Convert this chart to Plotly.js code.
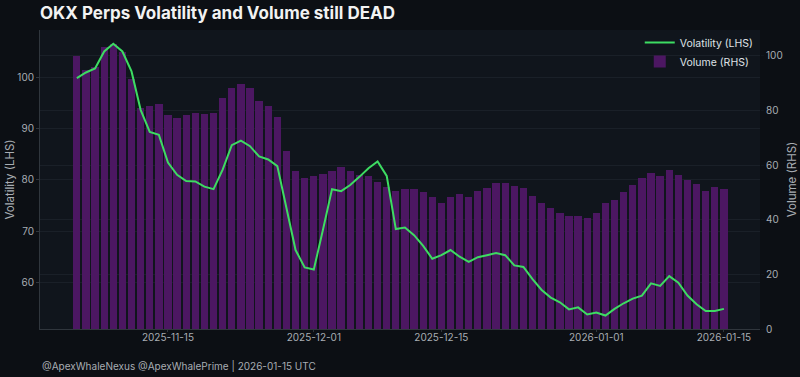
<!DOCTYPE html>
<html>
<head>
<meta charset="utf-8">
<script src="https://cdn.plot.ly/plotly-3.0.1.min.js"></script>
<style>
  html, body { margin: 0; padding: 0; background: #0c0f14; }
  #chart { width: 800px; height: 377px; }
</style>
</head>
<body>
<div id="chart"></div>
<script>
const dates = [
  '2025-11-05','2025-11-06','2025-11-07','2025-11-08','2025-11-09','2025-11-10','2025-11-11','2025-11-12','2025-11-13','2025-11-14',
  '2025-11-15','2025-11-16','2025-11-17','2025-11-18','2025-11-19','2025-11-20','2025-11-21','2025-11-22','2025-11-23','2025-11-24',
  '2025-11-25','2025-11-26','2025-11-27','2025-11-28','2025-11-29','2025-11-30',
  '2025-12-01','2025-12-02','2025-12-03','2025-12-04','2025-12-05','2025-12-06','2025-12-07','2025-12-08','2025-12-09','2025-12-10',
  '2025-12-11','2025-12-12','2025-12-13','2025-12-14','2025-12-15','2025-12-16','2025-12-17','2025-12-18','2025-12-19','2025-12-20',
  '2025-12-21','2025-12-22','2025-12-23','2025-12-24','2025-12-25','2025-12-26','2025-12-27','2025-12-28','2025-12-29','2025-12-30','2025-12-31',
  '2026-01-01','2026-01-02','2026-01-03','2026-01-04','2026-01-05','2026-01-06','2026-01-07','2026-01-08','2026-01-09','2026-01-10',
  '2026-01-11','2026-01-12','2026-01-13','2026-01-14','2026-01-15'
];

const volatility = [
  99.9, 101.0, 101.8, 105.1, 106.6, 105.1, 101.2, 93.7, 89.4, 88.8,
  83.4, 81.0, 79.8, 79.7, 78.7, 78.2, 82.0, 86.8, 87.7, 86.6,
  84.6, 84.0, 82.7, 74.8, 66.3, 62.9, 62.5, 70.2, 78.2, 77.8,
  79.0, 80.6, 82.3, 83.6, 80.8, 70.4, 70.7, 69.2, 67.1, 64.6,
  65.3, 66.3, 65.0, 64.0, 64.9, 65.3, 65.7, 65.3, 63.3, 63.0,
  60.6, 58.5, 57.0, 56.1, 54.7, 55.1, 53.7, 54.1, 53.5, 54.8,
  55.9, 56.8, 57.4, 59.8, 59.3, 61.2, 59.9, 57.4, 55.7, 54.4,
  54.4, 54.8
];

const volume = [
  100.0, 95.0, 96.0, 103.4, 104.4, 101.6, 91.5, 81.0, 81.8, 82.3,
  78.4, 77.3, 78.4, 79.0, 78.9, 79.1, 84.6, 88.4, 89.6, 88.4,
  83.5, 81.7, 77.7, 65.1, 58.0, 55.2, 56.2, 56.8, 58.0, 59.2,
  57.9, 56.3, 56.2, 54.0, 52.1, 50.5, 51.4, 51.4, 50.2, 48.4,
  46.0, 48.4, 49.3, 48.4, 50.5, 51.8, 53.4, 53.4, 52.5, 51.5,
  48.6, 46.3, 44.2, 42.6, 41.5, 41.3, 40.5, 42.5, 46.0, 47.3,
  50.1, 52.6, 55.3, 57.3, 56.2, 58.1, 56.5, 54.6, 53.0, 50.5,
  51.9, 51.3
];

const xTickVals = ['2025-11-15', '2025-12-01', '2025-12-15', '2026-01-01', '2026-01-15'];
const xTickText = ['2025-11-15', '2025-12-01', '2025-12-15', '2026-01-01', '2026-01-15'];
const volTicks = [60, 70, 80, 90, 100];
const volumeTicks = [0, 20, 40, 60, 80, 100];

const titleText = 'OKX Perps Volatility and Volume still DEAD';
const footerText = '@ApexWhaleNexus @ApexWhalePrime | 2026-01-15 UTC';

const DAY = 86400000;

const traces = [
  {
    type: 'scatter', mode: 'lines', name: 'Volatility (LHS)',
    x: dates, y: volatility, yaxis: 'y2',
    line: { color: '#3ddc62', width: 2 },
    hoverinfo: 'skip'
  },
  {
    type: 'bar', name: 'Volume (RHS)',
    x: dates, y: volume, yaxis: 'y',
    width: 0.8 * DAY,
    marker: { color: '#4c1762', line: { width: 0 } },
    hoverinfo: 'skip'
  }
];

const gridC = '#1a2028';
const tickFont = { family: 'Inter, "DejaVu Sans", sans-serif', size: 10, color: '#a8adb3' };

const layout = {
  width: 800, height: 377,
  paper_bgcolor: '#0c0f14',
  plot_bgcolor: '#10151c',
  margin: { l: 40, r: 40, t: 30, b: 48, pad: 0 },
  font: { family: 'Inter, "DejaVu Sans", sans-serif', color: '#a8adb3' },
  showlegend: true,
  bargap: 0,
  title: {
    text: titleText,
    font: { family: 'Inter, "DejaVu Sans", sans-serif', size: 17, color: '#f2f2f2', weight: 700 },
    x: 40 / 800, xref: 'container', xanchor: 'left',
    y: 1 - 13 / 377, yref: 'container', yanchor: 'middle'
  },
  xaxis: {
    type: 'date',
    range: ['2025-10-31 23:00', '2026-01-18 23:00'],
    tickvals: xTickVals, ticktext: xTickText,
    tickfont: tickFont,
    ticks: 'outside', ticklen: 2, tickcolor: '#30363d',
    ticklabelstandoff: -3,
    showgrid: false, zeroline: false,
    showline: true, linecolor: '#30363d', linewidth: 1
  },
  yaxis: {
    side: 'right',
    range: [0, 109.5],
    tickvals: volumeTicks,
    tickfont: tickFont,
    ticks: 'outside', ticklen: 3, tickcolor: '#10151c',
    showgrid: true, gridcolor: gridC, gridwidth: 1,
    zeroline: false, showline: false,
    title: { text: 'Volume (RHS)', font: { size: 11.5, color: '#a8adb3' }, standoff: 6 }
  },
  yaxis2: {
    overlaying: 'y', side: 'left',
    range: [50.87, 109.3],
    tickvals: volTicks,
    tickfont: tickFont,
    ticks: 'outside', ticklen: 3, tickcolor: '#30363d',
    showgrid: true, gridcolor: gridC, gridwidth: 1,
    zeroline: false,
    showline: true, linecolor: '#30363d', linewidth: 1,
    title: { text: 'Volatility (LHS)', font: { size: 11.5, color: '#a8adb3' }, standoff: 0 }
  },
  legend: {
    x: 0.833, xanchor: 'left', y: 1.007, yanchor: 'top',
    bgcolor: 'rgba(0,0,0,0)', borderwidth: 0,
    font: { size: 10.5, color: '#dfe2e6' },
    traceorder: 'normal'
  },
  annotations: [
    {
      text: footerText, showarrow: false,
      xref: 'paper', yref: 'paper', x: 0, y: (329 - 366) / 299,
      xanchor: 'left', yanchor: 'middle',
      font: { size: 10, color: '#a8adb3' }
    }
  ]
};

Plotly.newPlot('chart', traces, layout, { displayModeBar: false, staticPlot: true });
</script>
</body>
</html>
